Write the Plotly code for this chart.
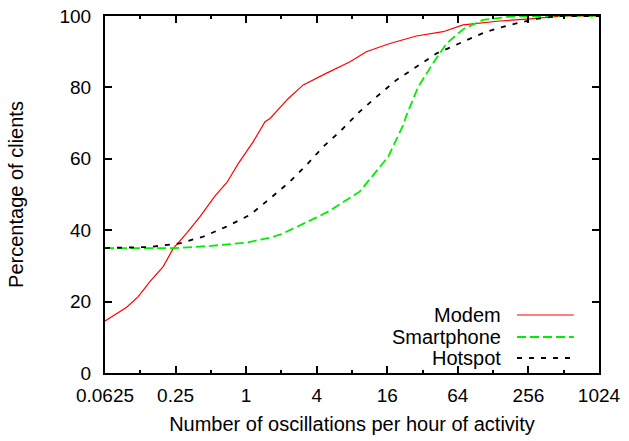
import plotly.graph_objects as go

# oscillations per hour of activity vs. cumulative percentage of clients
modem_x = [0.0625, 0.0957, 0.12, 0.151, 0.196, 0.239, 0.31, 0.404, 0.543, 0.683, 0.859,
           1.15, 1.45, 1.6, 2.29, 3.07, 4.86, 7.7, 10.6, 16.8, 28.4, 47.9, 71, 105, 146,
           263, 502, 1024]
modem_y = [14.6, 18.4, 21.4, 25.6, 29.8, 34.9, 39.1, 43.8, 49.6, 53.3, 58.7,
           64.8, 70.4, 71.3, 76.9, 80.7, 84.0, 87.2, 90.0, 92.3, 94.4, 95.6, 97.5, 98.2, 98.6,
           99.2, 100, 100]

smart_x = [0.0625, 0.125, 0.25, 0.5, 1, 1.6, 2, 4, 5.2, 9.3, 16.3, 21.9, 23.1, 29.4, 41,
           51.3, 71, 105, 177, 256, 1024]
smart_y = [35.0, 34.9, 35.0, 35.6, 36.5, 37.9, 38.9, 43.6, 45.5, 50.8, 60.6, 69.5, 71.8, 80.2, 87.7,
           92.3, 96.3, 98.9, 99.8, 100, 100]

hot_x = [0.0625, 0.151, 0.27, 0.43, 0.68, 1.08, 1.6, 2.36, 3.28, 4.55, 6.3, 9.3, 13, 19.2,
         28.4, 42, 71, 112, 177, 300, 474, 1024]
hot_y = [35.0, 35.3, 36.3, 38.2, 41.0, 44.3, 48.9, 53.6, 58.3, 63.4, 67.6, 73.2, 77.4, 82.1,
         85.8, 89.5, 92.8, 95.6, 97.5, 99.2, 100, 100]

x_ticks = [0.0625, 0.25, 1, 4, 16, 64, 256, 1024]
x_ticktext = ["0.0625", "0.25", "1", "4", "16", "64", "256", "1024"]
x_minor = [0.125, 0.5, 2, 8, 32, 128, 512]
y_ticks = [0, 20, 40, 60, 80, 100]

series = [
    ("Modem", modem_x, modem_y, "#ff0000", "solid", 1.2),
    ("Smartphone", smart_x, smart_y, "#00ee00", "9px,4px", 1.8),
    ("Hotspot", hot_x, hot_y, "#000000", "5px,7px", 1.8),
]

FONT = "Liberation Sans, Arial, sans-serif"
FS = 20      # titles and legend
FS_TICK = 19

fig = go.Figure()
for name, xs, ys, color, dash, w in series:
    fig.add_trace(go.Scatter(x=xs, y=ys, mode="lines", name=name,
                             line=dict(color=color, dash=dash, width=w),
                             showlegend=False))

# legend drawn by hand: text on the left, line sample on the right
leg_y = [0.1625, 0.1008, 0.042]
for (name, xs, ys, color, dash, w), ly in zip(series, leg_y):
    fig.add_annotation(x=0.806, y=ly, xref="paper", yref="paper", text=name,
                       showarrow=False, xanchor="right", yanchor="middle",
                       font=dict(size=FS, color="black", family=FONT))
    fig.add_shape(type="line", xref="paper", yref="paper", x0=0.834, x1=0.949,
                  y0=ly, y1=ly, line=dict(color=color, dash=dash, width=w))

fig.update_xaxes(
    type="log", range=[-1.2041, 3.0103],
    tickvals=x_ticks, ticktext=x_ticktext,
    ticks="inside", ticklen=7, tickwidth=1.5, tickcolor="black",
    minor=dict(tickvals=x_minor, ticks="inside", ticklen=3, tickwidth=1.5, tickcolor="black"),
    showline=True, linewidth=2, linecolor="black", mirror="allticks",
    showgrid=False, zeroline=False, ticklabelstandoff=4, ticklabeloverflow="allow",
    tickfont=dict(size=FS_TICK, color="black", family=FONT),
    title=dict(text="Number of oscillations per hour of activity", standoff=12,
               font=dict(size=FS, color="black", family=FONT)),
)
fig.update_yaxes(
    range=[0, 100], tickvals=y_ticks,
    ticks="inside", ticklen=7, tickwidth=1.5, tickcolor="black",
    showline=True, linewidth=2, linecolor="black", mirror="allticks",
    showgrid=False, zeroline=False, ticklabelstandoff=8, ticklabeloverflow="allow",
    tickfont=dict(size=FS_TICK, color="black", family=FONT),
    title=dict(text="Percentage of clients", standoff=30,
               font=dict(size=FS, color="black", family=FONT)),
)

fig.update_layout(
    width=629, height=441,
    margin=dict(l=105, r=30, t=16, b=68, autoexpand=False),
    plot_bgcolor="white", paper_bgcolor="white",
    font=dict(family=FONT, size=FS, color="black"),
)

# drop the default page margin so the figure fills the window exactly
fig.write_html("out.html", config={"displayModeBar": False},
               post_script="document.body.style.margin='0';")
